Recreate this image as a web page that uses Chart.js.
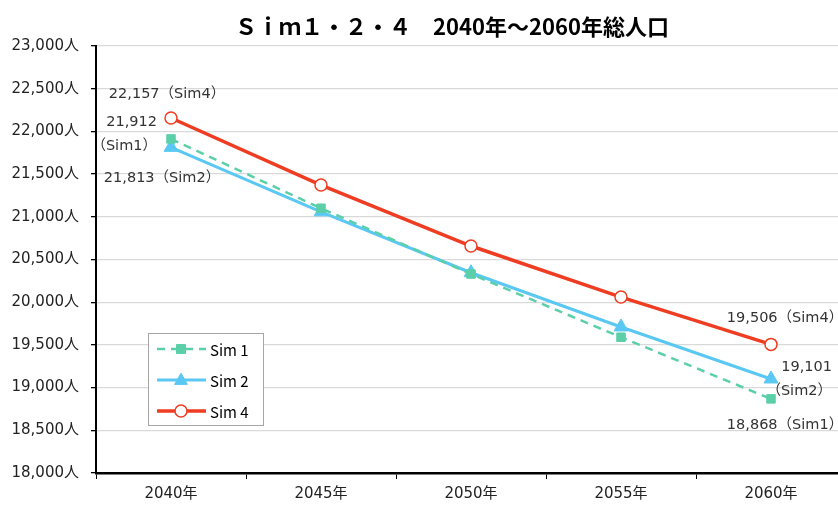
<!DOCTYPE html>
<html>
<head>
<meta charset="utf-8">
<script src="https://cdn.jsdelivr.net/npm/chart.js@4.4.1/dist/chart.umd.min.js"></script>
<style>
  html, body { margin: 0; padding: 0; background: #fff; overflow: hidden; }
  #wrap { width: 838px; height: 507px; overflow: hidden; position: relative; }
  canvas { display: block; position: absolute; left: 0; top: 0; }
</style>
</head>
<body>
<!-- canvas is a bit wider than the window: the plot runs past the right edge in the original -->
<div id="wrap"><canvas id="popChart" width="848" height="507"></canvas></div>
<script>
// ---- data ----
const years = ['2040年', '2045年', '2050年', '2055年', '2060年'];
const sim1 = [21912, 21100, 20330, 19590, 18868];
const sim2 = [21813, 21058, 20345, 19710, 19101];
const sim4 = [22157, 21372, 20658, 20060, 19506];
const seriesNames = ['Sim 1', 'Sim 2', 'Sim 4'];
const titleText = 'Ｓｉｍ１・２・４　2040年～2060年総人口';
const yMin = 18000, yMax = 23000, yStep = 500;

const FONT = "'Noto Sans CJK JP', 'Noto Sans', sans-serif";
const TICKFONT = "'DejaVu Sans', 'Noto Sans CJK JP', sans-serif";
const fmt = n => n.toLocaleString('en-US');

// labels next to first / last points: [dataset, point, align, dx, dy, lines]
const labelSpecs = [
    [2, 0, 'center', -4, -24, v => [fmt(v) + '（Sim4）']],
    [0, 0, 'right', -14, -17, v => [fmt(v), '（Sim1）']],
    [1, 0, 'center', -9, 31, v => [fmt(v) + '（Sim2）']],
    [2, 4, 'center', 14, -26, v => [fmt(v) + '（Sim4）']],
    [1, 4, 'right', 61, -12, v => [fmt(v), '（Sim2）']],
    [0, 4, 'center', 14, 26, v => [fmt(v) + '（Sim1）']]
];

function drawMarker(ctx, style, r, x, y) {
    ctx.beginPath();
    if (style === 'rect') {
        ctx.rect(x - r * 0.75, y - r * 0.75, r * 1.5, r * 1.5);
    } else if (style === 'triangle') {
        ctx.moveTo(x, y - r * 0.85);
        ctx.lineTo(x + r * 0.8, y + r * 0.55);
        ctx.lineTo(x - r * 0.8, y + r * 0.55);
        ctx.closePath();
    } else {
        ctx.arc(x, y, r, 0, Math.PI * 2);
    }
    ctx.fill();
    ctx.stroke();
}

// title + point labels + boxed legend drawn inside plot
const extras = {
    id: 'extras',
    afterDatasetsDraw(chart) {
        const ctx = chart.ctx;
        ctx.save();
        ctx.fillStyle = '#000';
        ctx.font = `bold 22px ${FONT}`;
        ctx.textAlign = 'center';
        ctx.textBaseline = 'middle';
        ctx.fillText(titleText, 452, 27);

        ctx.font = `14.5px ${TICKFONT}`;
        ctx.fillStyle = '#333';
        labelSpecs.forEach(([di, pi, align, dx, dy, lines]) => {
            const pt = chart.getDatasetMeta(di).data[pi];
            const txt = lines(chart.data.datasets[di].data[pi]);
            ctx.textAlign = align;
            txt.forEach((t, k) => ctx.fillText(t, pt.x + dx, pt.y + dy + k * 24));
        });

        // legend box
        const bx = 148, by = 333, bw = 115, bh = 92;
        ctx.fillStyle = '#fff';
        ctx.fillRect(bx, by, bw, bh);
        ctx.strokeStyle = '#a6a6a6';
        ctx.lineWidth = 1;
        ctx.strokeRect(bx + 0.5, by + 0.5, bw, bh);
        chart.data.datasets.forEach((ds, i) => {
            const y = by + 16 + i * 31;
            ctx.strokeStyle = ds.borderColor;
            ctx.lineWidth = ds.borderWidth;
            ctx.setLineDash(ds.borderDash || []);
            ctx.beginPath();
            ctx.moveTo(157, y);
            ctx.lineTo(206, y);
            ctx.stroke();
            ctx.setLineDash([]);
            ctx.fillStyle = ds.pointBackgroundColor;
            ctx.strokeStyle = ds.pointBorderColor;
            ctx.lineWidth = ds.pointBorderWidth;
            drawMarker(ctx, ds.pointStyle, ds.pointRadius, 181, y);
            ctx.fillStyle = '#000';
            ctx.font = `15px ${FONT}`;
            ctx.textAlign = 'left';
            ctx.fillText(ds.label, 210, y + 1);
        });
        ctx.restore();
    }
};

new Chart(document.getElementById('popChart'), {
    type: 'line',
    data: {
        labels: years,
        datasets: [
            {
                label: seriesNames[0],
                data: sim1,
                borderColor: '#5bcfa8',
                borderWidth: 2.5,
                borderDash: [8, 6],
                pointStyle: 'rect',
                pointRadius: 6,
                pointBackgroundColor: '#5bcfa8',
                pointBorderColor: '#5bcfa8',
                pointBorderWidth: 1,
                tension: 0
            },
            {
                label: seriesNames[1],
                data: sim2,
                borderColor: '#5ac8f2',
                borderWidth: 3,
                pointStyle: 'triangle',
                pointRadius: 8,
                pointBackgroundColor: '#5ac8f2',
                pointBorderColor: '#5ac8f2',
                pointBorderWidth: 1,
                tension: 0
            },
            {
                label: seriesNames[2],
                data: sim4,
                borderColor: '#ee3d22',
                borderWidth: 3.5,
                pointStyle: 'circle',
                pointRadius: 6,
                pointBackgroundColor: '#ffffff',
                pointBorderColor: '#ee3d22',
                pointBorderWidth: 1.5,
                tension: 0
            }
        ]
    },
    options: {
        responsive: false,
        animation: false,
        layout: { autoPadding: false, padding: { top: 46, right: 2, left: 0, bottom: 0 } },
        plugins: {
            legend: { display: false },
            title: { display: false },
            tooltip: { enabled: false }
        },
        scales: {
            x: {
                offset: true,
                grid: {
                    offset: true,
                    drawOnChartArea: false,
                    drawTicks: true,
                    tickLength: 6,
                    tickColor: '#000'
                },
                border: { display: true, color: '#000', width: 2.5 },
                ticks: {
                    color: '#222',
                    padding: 6,
                    font: { family: TICKFONT, size: 15 }
                },
                afterFit(scale) { scale.height = 34; }
            },
            y: {
                min: yMin,
                max: yMax,
                grid: {
                    color: '#d9d9d9',
                    lineWidth: 1.3,
                    drawTicks: true,
                    tickLength: 5,
                    tickColor: '#000'
                },
                border: { display: true, color: '#000', width: 2 },
                ticks: {
                    stepSize: yStep,
                    color: '#222',
                    padding: 12,
                    font: { family: TICKFONT, size: 15 },
                    callback: v => fmt(v) + '人'
                },
                afterFit(scale) { scale.width = 96; }
            }
        }
    },
    plugins: [extras]
});
</script>
</body>
</html>
